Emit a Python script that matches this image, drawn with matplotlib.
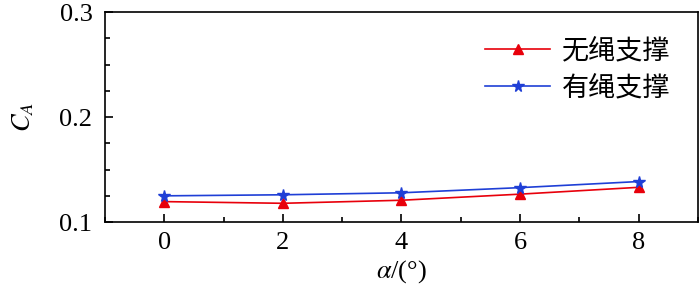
import matplotlib
matplotlib.use('Agg')
import matplotlib.pyplot as plt
from matplotlib.ticker import MultipleLocator

# data
alpha = [0, 2, 4, 6, 8]
ca_no_rope = [0.1195, 0.1179, 0.1208, 0.1266, 0.1331]
ca_rope = [0.1250, 0.1260, 0.1279, 0.1328, 0.1386]
labels = ['无绳支撑', '有绳支撑']

plt.rcParams['font.family'] = ['Liberation Serif', 'Noto Sans CJK SC']
plt.rcParams['mathtext.fontset'] = 'stix'

fig = plt.figure(figsize=(7, 2.93), dpi=100)
ax = fig.add_axes([0.15, 0.242, 0.847, 0.717])

ax.plot(alpha, ca_no_rope, color='#e8000b', marker='^', markersize=7.5,
        linewidth=1.2, label=labels[0])
ax.plot(alpha, ca_rope, color='#1f3fd6', marker='*', markersize=8.5,
        linewidth=1.2, label=labels[1])

ax.set_xlim(-1, 9)
ax.set_ylim(0.1, 0.3)
ax.xaxis.set_major_locator(MultipleLocator(2))
ax.xaxis.set_minor_locator(MultipleLocator(1))
ax.yaxis.set_major_locator(MultipleLocator(0.1))
ax.yaxis.set_minor_locator(MultipleLocator(0.025))
ax.tick_params(which='both', direction='in', top=False, right=False,
               labelsize=19, width=1.2)
ax.tick_params(axis='y', which='major', length=6, pad=9)
ax.tick_params(axis='x', which='major', length=6, pad=7)
ax.tick_params(which='minor', length=3.5)
for s in ax.spines.values():
    s.set_linewidth(1.2)

ax.set_xlabel(r'$\alpha$/(°)', fontsize=19, labelpad=3)
ax.set_ylabel(r'$C_A$', fontsize=19, labelpad=17)

ax.legend(loc='upper right', frameon=False, fontsize=19.5,
          handlelength=2.4, handletextpad=0.45, borderaxespad=0.6,
          labelspacing=0.4, bbox_to_anchor=(1.0, 1.0))

fig.savefig('out.png', dpi=100)
